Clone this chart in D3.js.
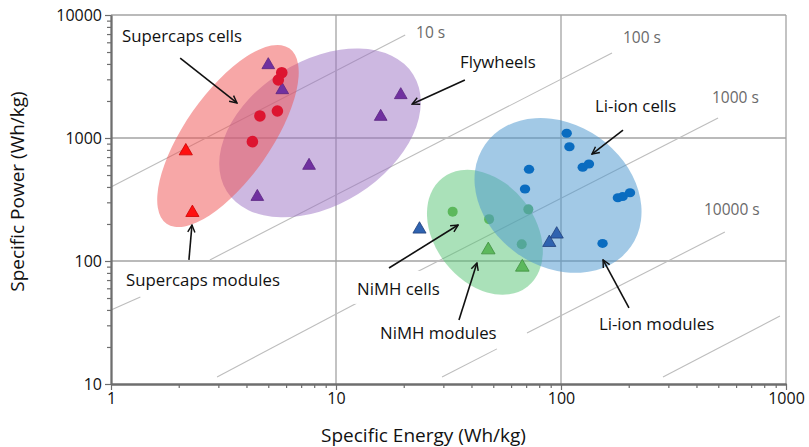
<!DOCTYPE html>
<html>
<head>
<meta charset="utf-8">
<script src="https://cdn.jsdelivr.net/npm/d3@7"></script>
<style>
  body { margin: 0; background: #fff; }
  text { font-family: "Open Sans", sans-serif; }
</style>
</head>
<body>
<svg id="chart"></svg>
<script>
// ---- data (specific energy Wh/kg, specific power W/kg) ----
const xTicks = [1, 10, 100, 1000];
const yTicks = [10, 100, 1000, 10000];

const supercapCells = [[5.74, 3397], [5.54, 2961], [4.59, 1511], [5.49, 1658], [4.25, 934]];
const supercapModules = [[2.15, 783], [2.30, 247]];
const flywheels = [[5.0, 3921], [5.77, 2455], [7.59, 596], [4.47, 333], [19.4, 2238], [15.8, 1490]];
const liionCells = [[106, 1092], [109, 849], [124.9, 578], [133.1, 615], [179, 327], [188, 334],
                    [202.6, 359], [72.1, 556], [69.2, 385]];
const liionModules = [[153, 139]];
const liionModuleTriangles = [[23.5, 181], [95.7, 165], [88.7, 141]];
const nimhCells = [[33, 252], [47.9, 219], [71.6, 263], [66.9, 137]];
const nimhModules = [[47.5, 123], [67.3, 89]];

// ellipse centres of the technology zones
const zoneCenters = { flywheel: [8.49, 1099], supercap: [3.31, 1038], nimh: [45.9, 171], liion: [97, 341] };

// constant discharge-time lines, segments
const timeSegments = [
  [[1, 400], [20.3, 6880]],
  [[1, 40], [1.35, 51]], [[2.75, 102], [168.5, 4911]],
  [[2.96, 11.4], [12.4, 45.6]], [[22.4, 79.8], [499, 1455]],
  [[29.6, 11.4], [51.9, 19.3]], [[70.6, 26], [535, 172]],
  [[284, 11.4], [940, 35.7]]
];
const timeLabels = [["10 s", 22.7, 7140], ["100 s", 188.6, 6505], ["1000 s", 469, 2113], ["10000 s", 432, 260]];

// annotations: text, label anchor (left, middle), arrow tail, arrow head
const annotations = [
  ["Supercaps cells", [1.12, 6745], [2.03, 4467], [3.63, 1928]],
  ["Flywheels", [35.6, 4150], [37.4, 2962], [21.8, 1888]],
  ["Li-ion cells", [141.6, 1820], [188.6, 1161], [137.3, 741]],
  ["Supercaps modules", [1.166, 70.2], [2.22, 102], [2.29, 196]],
  ["NiMH cells", [12.4, 59.2], [17.2, 87.7], [34.9, 196]],
  ["NiMH modules", [15.7, 26], [35.2, 33.1], [42.3, 96.4]],
  ["Li-ion modules", [147.5, 30.8], [200.5, 41.5], [153.8, 102]]
];

// ---- layout ----
const width = 809, height = 447;
const margin = { top: 15, right: 23, bottom: 63, left: 111 };

const svg = d3.select('#chart').attr('width', width).attr('height', height);

const x = d3.scaleLog().domain([1, 1000]).range([margin.left, width - margin.right]);
const y = d3.scaleLog().domain([10, 10000]).range([height - margin.bottom, margin.top]);

const minorX = [];
const minorY = [];
[1, 10, 100].forEach(d => { for (let k = 2; k < 10; k++) minorX.push(d * k); });
[10, 100, 1000].forEach(d => { for (let k = 2; k < 10; k++) minorY.push(d * k); });

// grid + frame
const grid = svg.append('g').attr('stroke', '#a3a3a3').attr('stroke-width', 1.3);
grid.selectAll('.gx').data([10, 100, 1000]).join('line')
  .attr('x1', d => x(d)).attr('x2', d => x(d))
  .attr('y1', y(10)).attr('y2', y(10000));
grid.selectAll('.gy').data([100, 1000, 10000]).join('line')
  .attr('x1', x(1)).attr('x2', x(1000))
  .attr('y1', d => y(d)).attr('y2', d => y(d));

// constant time lines
svg.append('g').selectAll('line').data(timeSegments).join('line')
  .attr('x1', d => x(d[0][0])).attr('y1', d => y(d[0][1]))
  .attr('x2', d => x(d[1][0])).attr('y2', d => y(d[1][1]))
  .attr('stroke', '#bdbdbd').attr('stroke-width', 1.1);

svg.append('g').selectAll('text').data(timeLabels).join('text')
  .attr('x', d => x(d[1])).attr('y', d => y(d[2]))
  .attr('dy', '0.35em')
  .attr('fill', '#6a6a6a').attr('font-size', 15.5)
  .text(d => d[0]);

// white label boxes (hide the grid behind the labels)
const boxG = svg.append('g');

// zones
const zoneStyle = {
  flywheel: { rx: 110, ry: 72, angle: -32, fill: '#9b72c4', op: 0.5 },
  supercap: { rx: 107, ry: 43, angle: -55, fill: '#f0504f', op: 0.5 },
  nimh: { rx: 69, ry: 50, angle: 52, fill: '#55c373', op: 0.5 },
  liion: { rx: 89, ry: 71, angle: 35, fill: '#4d97cf', op: 0.52 }
};
function drawZone(key) {
  const c = zoneCenters[key], s = zoneStyle[key];
  svg.append('ellipse')
    .attr('transform', `translate(${x(c[0])},${y(c[1])}) rotate(${s.angle})`)
    .attr('rx', s.rx).attr('ry', s.ry)
    .attr('fill', s.fill).attr('fill-opacity', s.op);
}

const tri = d3.symbol().type(d3.symbolTriangle);
function drawTriangles(data, fill, stroke, size) {
  svg.append('g').selectAll('path').data(data).join('path')
    .attr('transform', d => `translate(${x(d[0])},${y(d[1])})`)
    .attr('d', tri.size(size)())
    .attr('fill', fill).attr('stroke', stroke).attr('stroke-width', 0.8);
}
function drawDots(data, fill, rx, ry) {
  svg.append('g').selectAll('ellipse').data(data).join('ellipse')
    .attr('cx', d => x(d[0])).attr('cy', d => y(d[1]))
    .attr('rx', rx).attr('ry', ry)
    .attr('fill', fill);
}

drawZone('flywheel');
drawZone('supercap');
drawZone('nimh');
drawDots(nimhCells, '#5cb85c', 5, 5);
drawZone('liion');

drawTriangles(nimhModules, '#5cb85c', '#3f8f3f', 80);
drawTriangles(liionModuleTriangles, '#2f63b0', '#1f3f7a', 75);
drawTriangles(flywheels, '#7030a0', '#5a2580', 70);
drawTriangles(supercapModules, '#ff1010', '#cc0000', 75);
drawDots(supercapCells, '#dd1530', 5.8, 5.8);
drawDots(liionCells, '#0a6cc0', 5.2, 4.5);
drawDots(liionModules, '#0a6cc0', 5.2, 4.5);

// axes
const axisColor = '#6e6e6e';
function styleAxis(g) {
  g.select('.domain').attr('stroke', axisColor).attr('stroke-width', 1.8);
  g.selectAll('.tick line').attr('stroke', axisColor).attr('stroke-width', 1.2);
  g.selectAll('.tick text').attr('fill', '#111').attr('font-size', 16)
    .attr('font-family', '"Open Sans", sans-serif');
}
svg.append('g').attr('transform', `translate(0,${y(10)})`)
  .call(d3.axisBottom(x).tickValues(minorX).tickSize(4).tickFormat('').tickSizeOuter(0))
  .call(styleAxis);
svg.append('g').attr('transform', `translate(0,${y(10)})`)
  .call(d3.axisBottom(x).tickValues(xTicks).tickSize(6).tickFormat(d3.format('d')).tickSizeOuter(0))
  .call(styleAxis);
svg.append('g').attr('transform', `translate(${x(1)},0)`)
  .call(d3.axisLeft(y).tickValues(minorY).tickSize(4).tickFormat('').tickSizeOuter(0))
  .call(styleAxis);
svg.append('g').attr('transform', `translate(${x(1)},0)`)
  .call(d3.axisLeft(y).tickValues(yTicks).tickSize(6).tickFormat(d3.format('d')).tickSizeOuter(0))
  .call(styleAxis);

// arrows
svg.append('defs').append('marker')
  .attr('id', 'head').attr('viewBox', '0 0 10 10')
  .attr('refX', 9).attr('refY', 5)
  .attr('markerWidth', 9).attr('markerHeight', 9)
  .attr('markerUnits', 'userSpaceOnUse')
  .attr('orient', 'auto')
  .append('path').attr('d', 'M1,1 L9,5 L1,9')
  .attr('fill', 'none').attr('stroke', '#111').attr('stroke-width', 1.6);

svg.append('g').selectAll('line').data(annotations).join('line')
  .attr('x1', d => x(d[2][0])).attr('y1', d => y(d[2][1]))
  .attr('x2', d => x(d[3][0])).attr('y2', d => y(d[3][1]))
  .attr('stroke', '#111').attr('stroke-width', 1.6)
  .attr('marker-end', 'url(#head)');

const labels = svg.append('g').selectAll('text').data(annotations).join('text')
  .attr('x', d => x(d[1][0])).attr('y', d => y(d[1][1]))
  .attr('dy', '0.35em')
  .attr('fill', '#111').attr('font-size', 16.8)
  .text(d => d[0]);

// white box under the NiMH cells label, which cuts the grid line
labels.filter(d => d[0] === 'NiMH cells').each(function () {
  const b = this.getBBox();
  boxG.append('rect')
    .attr('x', b.x - 20).attr('y', b.y - 6)
    .attr('width', b.width + 26).attr('height', b.height + 10)
    .attr('fill', '#fff');
});

// axis titles
svg.append('text')
  .attr('x', (x(1) + x(1000)) / 2 - 25).attr('y', 442)
  .attr('text-anchor', 'middle').attr('font-size', 19).attr('fill', '#111')
  .text('Specific Energy (Wh/kg)');
svg.append('text')
  .attr('transform', `translate(24,${(y(10) + y(10000)) / 2 - 8}) rotate(-90)`)
  .attr('text-anchor', 'middle').attr('font-size', 19).attr('fill', '#111')
  .text('Specific Power (Wh/kg)');
</script>
</body>
</html>
